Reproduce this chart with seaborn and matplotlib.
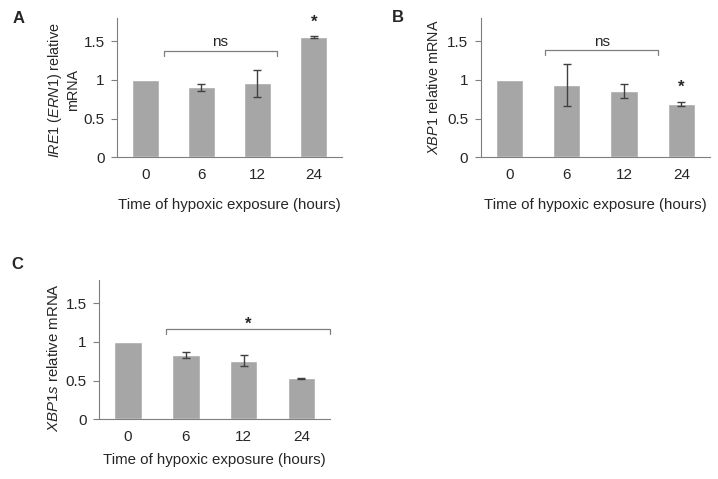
import matplotlib
matplotlib.use("Agg")
import matplotlib.pyplot as plt
import seaborn as sns
import pandas as pd
import numpy as np

sns.set_style("white")
plt.rcParams['font.family'] = ['Liberation Sans', 'DejaVu Sans']
plt.rcParams['mathtext.fontset'] = 'custom'
plt.rcParams['mathtext.rm'] = 'Liberation Sans'
plt.rcParams['mathtext.it'] = 'Liberation Sans:italic'

times = ["0", "6", "12", "24"]
ire1_vals = [1.0, 0.905, 0.957, 1.554]
ire1_err = [0.0, 0.045, 0.178, 0.013]
xbp1_vals = [1.0, 0.935, 0.855, 0.688]
xbp1_err = [0.0, 0.276, 0.09, 0.03]
xbp1s_vals = [1.0, 0.831, 0.757, 0.528]
xbp1s_err = [0.0, 0.033, 0.072, 0.005]
yticks = [0, 0.5, 1, 1.5]
ytick_labels = ["0", "0.5", "1", "1.5"]

BAR = "#a6a6a6"
SPINE = "#7f7f7f"
TFS = 11
XLFS = 10.8

fig = plt.figure(figsize=(7.18, 4.79), dpi=100)
axA = fig.add_axes([0.163, 0.672, 0.313, 0.29])
axB = fig.add_axes([0.6695, 0.672, 0.3195, 0.29])
axC = fig.add_axes([0.138, 0.125, 0.322, 0.29])

def draw(ax, vals, errs, ylabel, ylfs, ylx, yly, xlpad):
    df = pd.DataFrame({"time": times, "val": vals})
    sns.barplot(data=df, x="time", y="val", color=BAR, width=0.48,
                errorbar=None, ax=ax, saturation=1)
    idx = [i for i, e in enumerate(errs) if e > 0]
    ax.errorbar(idx, [vals[i] for i in idx], yerr=[errs[i] for i in idx], fmt="none",
                ecolor="#404040", elinewidth=1, capsize=3, capthick=1)
    ax.set_xlim(-0.5, 3.5)
    ax.set_ylim(0, 1.8)
    ax.set_yticks(yticks)
    ax.set_yticklabels(ytick_labels, fontsize=TFS)
    ax.set_xticks(range(4))
    ax.set_xticklabels(times, fontsize=TFS)
    ax.set_xticks(np.arange(-0.5, 4, 1), minor=True)
    ax.tick_params(axis="x", which="major", length=0, pad=8)
    ax.tick_params(axis="x", which="minor", length=4, color=SPINE, width=0.8, direction="out")
    ax.tick_params(axis="y", length=4, color=SPINE, width=0.8, direction="out", left=True, pad=5)
    for s in ["top", "right"]:
        ax.spines[s].set_visible(False)
    for s in ["left", "bottom"]:
        ax.spines[s].set_color(SPINE)
        ax.spines[s].set_linewidth(0.8)
    ax.set_xlabel("Time of hypoxic exposure (hours)", fontsize=XLFS, labelpad=xlpad)
    ax.set_ylabel(ylabel, fontsize=ylfs, linespacing=1.15)
    ax.yaxis.set_label_coords(ylx, yly)

def bracket(ax, x0, x1, y, leg, text, ty, fs=TFS, weight="normal"):
    ax.plot([x0, x0, x1, x1], [y - leg, y, y, y - leg], color=SPINE, lw=0.9, clip_on=False)
    ax.text((x0 + x1) / 2, ty, text, ha="center", va="center", fontsize=fs, weight=weight)

draw(axA, ire1_vals, ire1_err, r"$\mathit{IRE1\ (ERN1)}$ relative" + "\nmRNA", 10.4, -0.165, 0.48, 11)
bracket(axA, 0.34, 2.34, 1.38, 0.07, "ns", 1.49)
axA.text(3, 1.75, "*", ha="center", va="center", fontsize=12, weight="bold")

draw(axB, xbp1_vals, xbp1_err, r"$\mathit{XBP1}$ relative mRNA", 10.4, -0.173, 0.5, 11)
bracket(axB, 0.62, 2.6, 1.39, 0.07, "ns", 1.49)
axB.text(3, 0.9, "*", ha="center", va="center", fontsize=12, weight="bold")

draw(axC, xbp1s_vals, xbp1s_err, r"$\mathit{XBP1s}$ relative mRNA", 10.8, -0.164, 0.44, 6)
bracket(axC, 0.66, 3.5, 1.165, 0.065, "*", 1.23, fs=12, weight="bold")

fig.text(0.018, 0.962, "A", fontsize=12, weight="bold", va="center")
fig.text(0.546, 0.964, "B", fontsize=12, weight="bold", va="center")
fig.text(0.016, 0.447, "C", fontsize=12, weight="bold", va="center")

fig.savefig("out.png", dpi=100)
